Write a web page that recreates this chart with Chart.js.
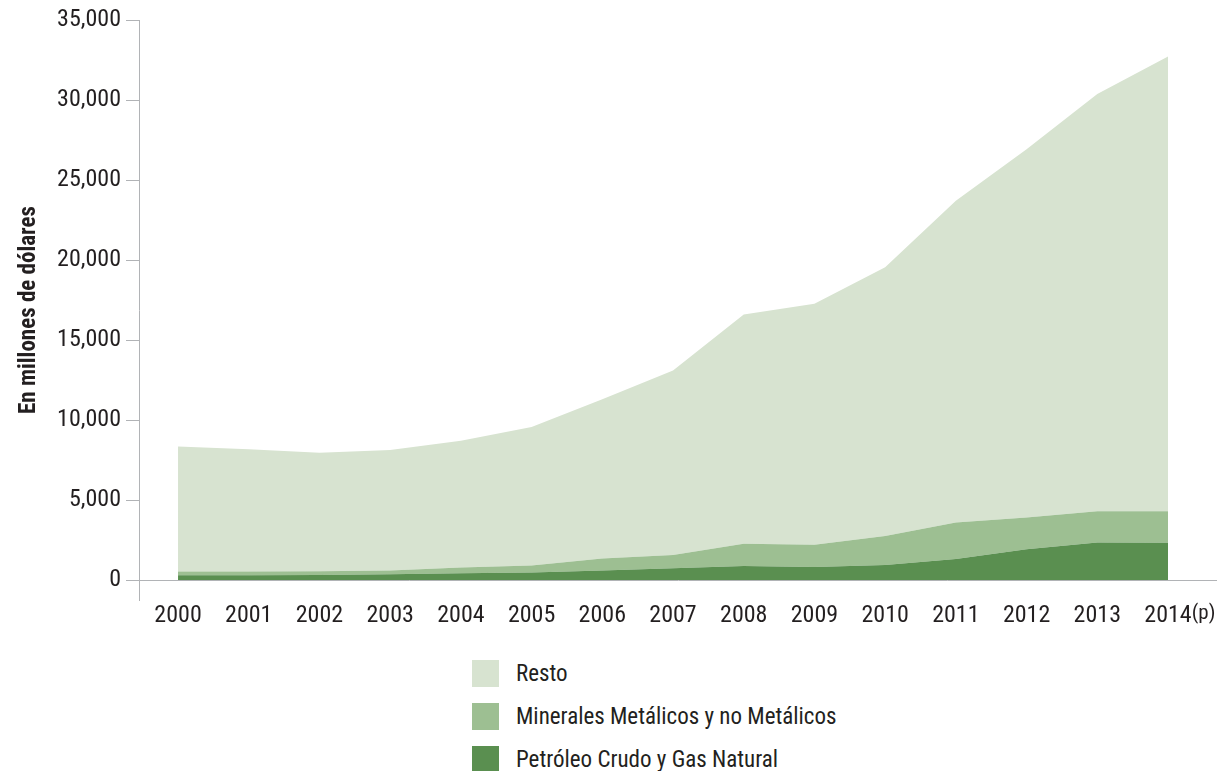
<!DOCTYPE html>
<html>
<head>
<meta charset="utf-8">
<script src="https://cdn.jsdelivr.net/npm/chart.js@4.4.1/dist/chart.umd.min.js"></script>
<style>
  body { margin: 0; background: #fff; }
  #wrap { position: relative; width: 1224px; height: 771px; }
  #legend { position: absolute; left: 472px; top: 652px; }
  .item { display: flex; align-items: center; height: 43px; }
  .box { width: 27px; height: 27px; margin-right: 17px; }
  .lbl { font: 23px 'Liberation Sans Narrow', 'Roboto Condensed', 'DejaVu Sans Condensed', sans-serif; color: #231f20; }
</style>
</head>
<body>
<div id="wrap">
  <canvas id="chart" width="1224" height="640"></canvas>
  <div id="legend"></div>
</div>
<script>
// valores en millones de dolares
const years = [2000, 2001, 2002, 2003, 2004, 2005, 2006, 2007, 2008, 2009, 2010, 2011, 2012, 2013, 2014];
const petroleo = [300, 300, 310, 360, 420, 470, 590, 740, 870, 820, 930, 1320, 1920, 2340, 2330];
const minerales = [230, 230, 230, 230, 360, 430, 750, 820, 1400, 1380, 1820, 2270, 1980, 1950, 1970];
const resto = [7810, 7640, 7410, 7530, 7920, 8660, 9960, 11540, 14320, 15060, 16800, 20110, 23020, 26080, 28420];
const yTicks = [0, 5000, 10000, 15000, 20000, 25000, 30000, 35000];

const font = "'Liberation Sans Narrow', 'Roboto Condensed', 'DejaVu Sans Condensed', sans-serif";
const axisColor = '#b1b3b6';
const textColor = '#231f20';

// the last year is preliminary: draw "(p)" after the 2014 label
const provisional = {
    id: 'provisional',
    afterDraw(chart) {
        let x = chart.scales.x;
        let ctx = chart.ctx;
        let last = years[years.length - 1];
        let px = x.getPixelForValue(last);
        ctx.save();
        ctx.font = '24px ' + font;
        let w = ctx.measureText(String(last)).width;
        ctx.font = '21px ' + font;
        ctx.fillStyle = textColor;
        ctx.textAlign = 'left';
        ctx.textBaseline = 'middle';
        ctx.fillText('(p)', px + w / 2, x.top + 14);
        ctx.restore();
    }
};

let chart = new Chart('chart', {
    type: 'line',
    data: {
        labels: years,
        datasets: [{
            label: 'Petróleo Crudo y Gas Natural',
            data: petroleo,
            backgroundColor: '#5a8f50',
            fill: 'origin'
        }, {
            label: 'Minerales Metálicos y no Metálicos',
            data: minerales,
            backgroundColor: '#9dbf92',
            fill: '-1'
        }, {
            label: 'Resto',
            data: resto,
            backgroundColor: '#d7e3d0',
            fill: '-1'
        }]
    },
    options: {
        responsive: false,
        animation: false,
        devicePixelRatio: 1,
        layout: { padding: { top: 20, right: 7, left: 0, bottom: 0 } },
        elements: {
            line: { borderWidth: 0, tension: 0 },
            point: { radius: 0 }
        },
        plugins: { legend: { display: false }, tooltip: { enabled: false } },
        scales: {
            x: {
                type: 'linear',
                min: 1999.448,
                max: 2014.693,
                grid: { display: false, drawTicks: false },
                border: { display: false },
                afterBuildTicks: s => { s.ticks = years.map(v => ({ value: v })); },
                afterFit: s => { s.height = 40; },
                ticks: {
                    autoSkip: false,
                    maxRotation: 0,
                    padding: 2,
                    color: textColor,
                    font: { family: font, size: 24 },
                    callback: v => String(v)
                }
            },
            y: {
                stacked: true,
                min: -1250,
                max: 35000,
                afterBuildTicks: s => { s.ticks = yTicks.map(v => ({ value: v })); },
                afterFit: s => { s.width = 139; },
                border: { display: true, color: axisColor, width: 1 },
                grid: {
                    color: c => (c.tick && c.tick.value === 0) ? axisColor : 'rgba(0,0,0,0)',
                    tickColor: axisColor,
                    tickLength: 13,
                    lineWidth: 1
                },
                ticks: {
                    padding: 5,
                    color: textColor,
                    font: { family: font, size: 24 },
                    callback: v => v.toLocaleString('en-US')
                },
                title: {
                    display: true,
                    text: 'En millones de dólares',
                    color: textColor,
                    font: { family: font, size: 23, weight: 'bold' },
                    padding: { top: 15, bottom: 0 }
                }
            }
        }
    },
    plugins: [provisional]
});

// legend, top to bottom as in the original
let legend = document.getElementById('legend');
for (let ds of chart.data.datasets.slice().reverse()) {
    let row = document.createElement('div');
    row.className = 'item';
    let box = document.createElement('div');
    box.className = 'box';
    box.style.background = ds.backgroundColor;
    let lbl = document.createElement('span');
    lbl.className = 'lbl';
    lbl.textContent = ds.label;
    row.appendChild(box);
    row.appendChild(lbl);
    legend.appendChild(row);
}
</script>
</body>
</html>
